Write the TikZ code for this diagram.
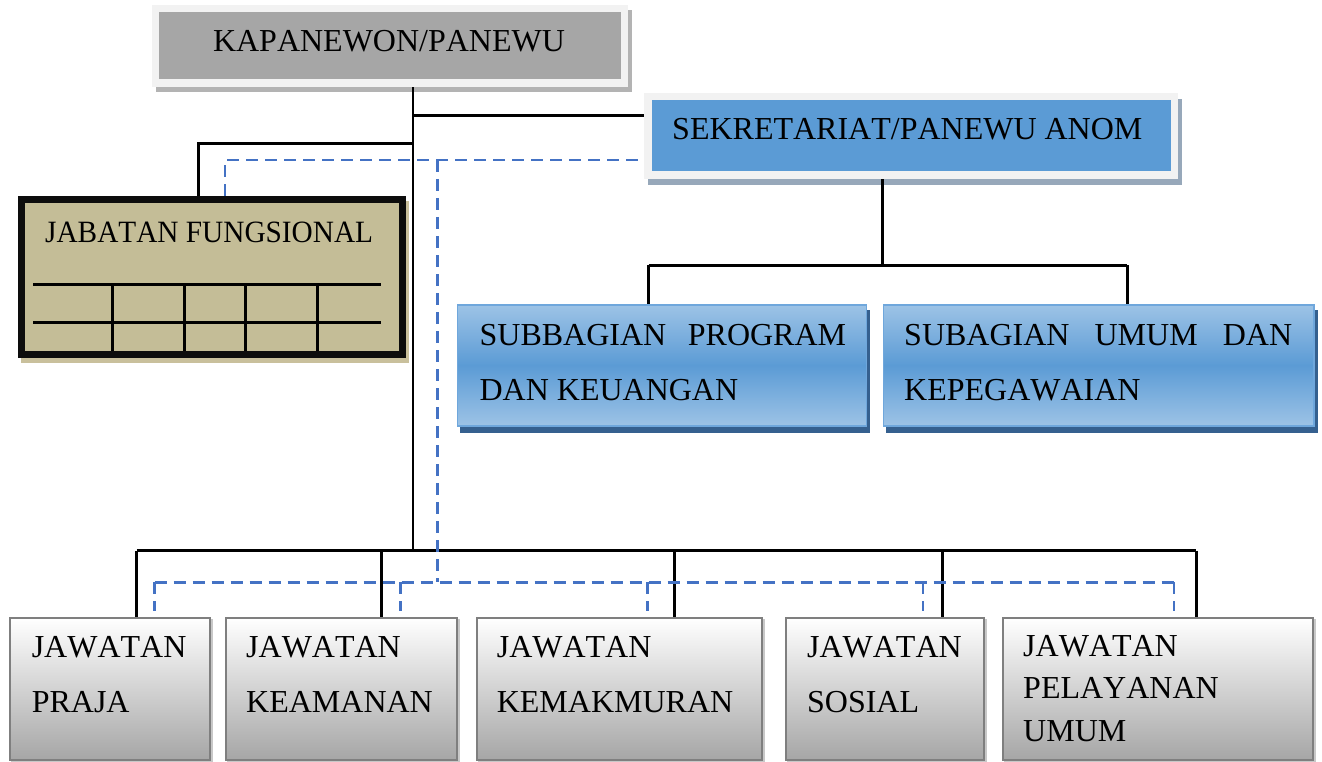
\documentclass[tikz,border=0pt]{standalone}
\usepackage{fontspec}
\setmainfont{Liberation Serif}[Kerning=Off]
\newfontfamily\jabfont{Liberation Serif}[Kerning=Off,FakeStretch=0.945]
\usetikzlibrary{backgrounds}
\definecolor{frameg}{HTML}{F2F2F2}
\definecolor{kapfill}{HTML}{A6A6A6}
\definecolor{kapsh}{HTML}{B3B3B3}
\definecolor{sekfill}{HTML}{5B9BD5}
\definecolor{seksh}{HTML}{97A8BA}
\definecolor{tanfill}{HTML}{C4BD97}
\definecolor{tansh}{HTML}{C9C09C}
\definecolor{subtop}{HTML}{9DC3E6}
\definecolor{submid}{HTML}{5B9BD5}
\definecolor{subedge}{HTML}{6FA7DC}
\definecolor{subsh}{HTML}{35608F}
\definecolor{dashblue}{HTML}{4472C4}
\definecolor{botedge}{HTML}{7F7F7F}
\definecolor{botlow}{HTML}{A6A6A6}
\definecolor{botsh}{HTML}{C8C8C8}
\begin{document}
\begin{tikzpicture}[x=1pt,y=-1pt,
  txt/.style={font=\fontsize{32}{38}\selectfont, inner sep=0pt, anchor=base west},
  kapbox/.style={draw=frameg, line width=7.5pt, fill=kapfill, rectangle, inner sep=0pt},
  sekbox/.style={draw=frameg, line width=7.5pt, fill=sekfill, rectangle, inner sep=0pt},
  jabbox/.style={draw=black!95, line width=7pt, fill=tanfill, rectangle, inner sep=0pt},
  subbox/.style={draw=subedge, line width=1.5pt, rectangle, inner sep=0pt,
     top color=subtop, bottom color=subtop, middle color=submid},
  botbox/.style={draw=botedge, line width=2pt, rectangle, inner sep=0pt,
     minimum height=142pt, top color=white, bottom color=botlow},
  conn/.style={line width=3pt, black},
  mainconn/.style={line width=2.2pt, black},
  dconn/.style={line width=2.5pt, dashblue, dash pattern=on 12pt off 7pt},
  gridline/.style={line width=2.8pt, black}
]
\useasboundingbox (0,0) rectangle (1322,762);

% boxes
\node[kapbox, minimum width=468.8pt, minimum height=74.5pt] (kap) at (389.85,46) {};
\node[txt, anchor=base] (kapt) at (389,52) {KAPANEWON/PANEWU};

\node[sekbox, minimum width=526.5pt, minimum height=78.8pt] (sek) at (911,135.85) {};
\node[txt] (sekt) at (672,140) {SEKRETARIAT/PANEWU ANOM};

\node[jabbox, minimum width=380.5pt, minimum height=154.5pt] (jab) at (211.75,276.75) {};
\node[txt, font=\jabfont\fontsize{31}{38}\selectfont] (jabt) at (45,242.7) {JABATAN FUNGSIONAL};
\draw[gridline] (33,284.3) -- (380.7,284.3);
\draw[gridline] (33,322.3) -- (380.7,322.3);
\foreach \gx in {112.3,184.3,245.7,317.3}{
  \draw[gridline] (\gx,284.3) -- (\gx,351);
}

\node[subbox, minimum width=409pt, minimum height=121.2pt] (sub1) at (662.2,365.35) {};
\node[subbox, minimum width=430.4pt, minimum height=121.2pt] (sub2) at (1098.6,365.35) {};
\node[txt] (s1a) at (479.4,345) {\makebox[366.6pt][l]{SUBBAGIAN\hfill PROGRAM}};
\node[txt] (s1b) at (479.4,400) {DAN KEUANGAN};
\node[txt] (s2a) at (904,345) {\makebox[388pt][l]{SUBAGIAN\hfill UMUM\hfill DAN}};
\node[txt] (s2b) at (904,400) {KEPEGAWAIAN};

\node[botbox, minimum width=200pt] (p1) at (110.3,688.7) {};
\node[botbox, minimum width=230.7pt] (p2) at (341.55,688.7) {};
\node[botbox, minimum width=285.8pt] (p3) at (619.5,688.7) {};
\node[botbox, minimum width=197.6pt] (p4) at (885.2,688.7) {};
\node[botbox, minimum width=310.4pt] (p5) at (1158.1,688.7) {};

\node[txt] (p1a) at (31.6,657) {JAWATAN};
\node[txt] (p1b) at (31.6,712.7) {PRAJA};
\node[txt] (p2a) at (246,657) {JAWATAN};
\node[txt] (p2b) at (246,712.7) {KEAMANAN};
\node[txt] (p3a) at (496.6,657) {JAWATAN};
\node[txt] (p3b) at (496.6,712.7) {KEMAKMURAN};
\node[txt] (p4a) at (806.9,657) {JAWATAN};
\node[txt] (p4b) at (806.9,712.7) {SOSIAL};
\node[txt] (p5a) at (1023,656.7) {JAWATAN};
\node[txt] (p5b) at (1023,698.3) {PELAYANAN};
\node[txt] (p5c) at (1023,741.7) {UMUM};

% junction coordinates
\coordinate (hub) at (412.7,550.7);
\coordinate (j1) at (412.7,116);
\coordinate (j2) at (412.7,144);
\coordinate (jd) at (198,144);
\coordinate (s0) at (882.7,265);
\coordinate (sa) at (648.5,265);
\coordinate (sb) at (1127,265);
\coordinate (d1) at (136.8,550.7);
\coordinate (d2) at (381.3,550.7);
\coordinate (d3) at (674.8,550.7);
\coordinate (d4) at (942.8,550.7);
\coordinate (d5) at (1196.1,550.7);
\coordinate (e1) at (225,160);
\coordinate (e2) at (437.5,160);
\coordinate (eb) at (437.5,582.3);
\coordinate (f1) at (154.5,582.3);
\coordinate (f2) at (400.7,582.3);
\coordinate (f3) at (647.3,582.3);
\coordinate (f4) at (923,582.3);
\coordinate (f5) at (1174.1,582.3);
\coordinate (g1) at (154.5,611);
\coordinate (g2) at (400.7,611);
\coordinate (g3) at (647.3,611);
\coordinate (g4) at (923,611);
\coordinate (g5) at (1174.1,611);

\begin{scope}[on background layer]
  % shadows
  \fill[kapsh] ([shift={(4pt,-5pt)}]kap.north west) rectangle ([shift={(4pt,-5pt)}]kap.south east);
  \fill[seksh] ([shift={(4pt,-6pt)}]sek.north west) rectangle ([shift={(4pt,-6pt)}]sek.south east);
  \fill[tansh] ([shift={(3pt,-5pt)}]jab.north west) rectangle ([shift={(3pt,-5pt)}]jab.south east);
  \fill[subsh] ([shift={(3pt,-6pt)}]sub1.north west) rectangle ([shift={(3pt,-6pt)}]sub1.south east);
  \fill[subsh] ([shift={(3pt,-6pt)}]sub2.north west) rectangle ([shift={(3pt,-6pt)}]sub2.south east);
  \foreach \p in {p1,p2,p3,p4,p5}{
    \fill[botsh] ([shift={(2pt,-2pt)}]\p.north west) rectangle ([shift={(2pt,-2pt)}]\p.south east);
  }
  % solid connectors
  \draw[mainconn] (kap.south -| hub) -- (hub);
  \draw[conn] (j1) -- (j1 -| sek.west);
  \draw[conn] (j2) -- (jd) -- (jd |- jab.north);
  \draw[conn] (sek.south -| s0) -- (s0);
  \draw[conn] (sa) -- (sb);
  \draw[conn] (sa) -- (sa |- sub1.north);
  \draw[conn] (sb) -- (sb |- sub2.north);
  \draw[conn] (d1) -- (d5);
  \draw[conn] (d1) -- (d1 |- p1.north);
  \draw[conn] (d2) -- (d2 |- p2.north);
  \draw[conn] (d3) -- (d3 |- p3.north);
  \draw[conn] (d4) -- (d4 |- p4.north);
  \draw[conn] (d5) -- (d5 |- p5.north);
  % dashed connectors
  \draw[dconn] (e1 |- jab.north) -- (e1) -- (e1 -| sek.west);
  \draw[dconn] (e2) -- (eb);
  \draw[dconn] (f1) -- (f5);
  \draw[dconn] (f1) -- (g1);
  \draw[dconn] (f2) -- (g2);
  \draw[dconn] (f3) -- (g3);
  \draw[dconn] (f4) -- (g4);
  \draw[dconn] (f5) -- (g5);
\end{scope}
\end{tikzpicture}
\end{document}
